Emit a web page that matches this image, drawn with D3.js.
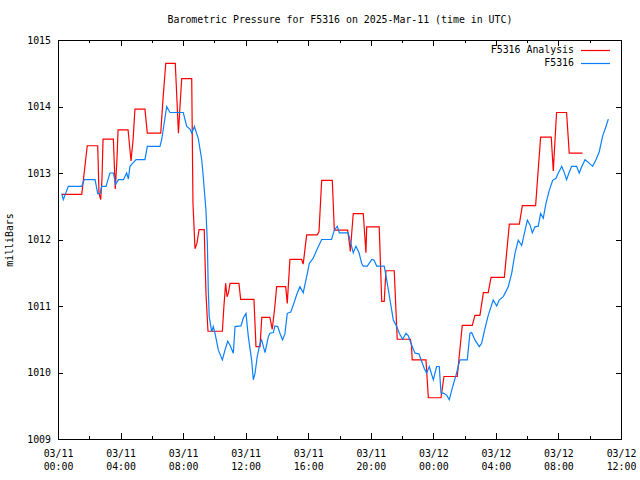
<!DOCTYPE html>
<html>
<head>
<meta charset="utf-8">
<script src="https://cdn.jsdelivr.net/npm/d3@7"></script>
<style>
  html, body { margin: 0; padding: 0; background: #fff; }
  svg { display: block; }
  text { font-family: "DejaVu Sans Mono", "Liberation Mono", monospace; font-size: 9.9px; fill: #000; }
</style>
</head>
<body>
<svg id="chart" width="640" height="480"></svg>
<script>
// ---- Data (hours since 2025-03-11 00:00 UTC, pressure in milliBars) ----
const title = "Barometric Pressure for F5316 on 2025-Mar-11 (time in UTC)";
const yLabel = "milliBars";
const seriesNames = ["F5316 Analysis", "F5316"];
const yTicks = [1009, 1010, 1011, 1012, 1013, 1014, 1015];
const xTickHours = [0, 4, 8, 12, 16, 20, 24, 28, 32, 36];
const xTickLabels = [
  ["03/11", "00:00"], ["03/11", "04:00"], ["03/11", "08:00"], ["03/11", "12:00"],
  ["03/11", "16:00"], ["03/11", "20:00"], ["03/12", "00:00"], ["03/12", "04:00"],
  ["03/12", "08:00"], ["03/12", "12:00"]
];

const analysisHours = [0.24,1.52,1.87,2.54,2.62,2.73,2.81,2.88,3.54,3.66,3.77,3.84,4.48,4.67,4.80,4.92,5.56,5.71,6.57,6.71,6.89,7.50,7.70,7.80,7.91,8.55,8.63,8.76,8.89,9.02,9.35,9.46,9.59,10.51,10.61,10.72,10.81,10.90,11.00,11.57,11.68,12.53,12.66,12.92,13.03,13.55,13.70,13.87,13.98,14.56,14.66,14.83,15.58,15.68,15.90,16.58,16.69,16.86,17.54,17.67,18.52,18.67,18.69,18.88,19.52,19.69,19.74,20.54,20.70,20.86,20.97,21.50,21.69,22.53,22.60,22.65,23.53,23.68,24.49,24.68,25.53,25.85,26.49,26.66,26.98,27.20,27.51,27.69,28.54,28.86,29.50,29.69,30.54,30.86,31.54,31.67,31.88,32.52,32.69,33.54];
const analysisValues = [1012.68,1012.68,1013.41,1013.41,1012.70,1012.60,1012.90,1013.51,1013.51,1012.76,1013.20,1013.65,1013.65,1013.18,1013.50,1013.96,1013.96,1013.60,1013.60,1014.10,1014.65,1014.65,1013.60,1014.00,1014.42,1014.42,1012.55,1011.86,1011.95,1012.15,1012.15,1011.20,1010.62,1010.62,1011.00,1011.34,1011.14,1011.20,1011.34,1011.34,1011.10,1011.10,1010.39,1010.39,1010.83,1010.83,1010.65,1011.00,1011.29,1011.29,1011.04,1011.70,1011.70,1011.63,1012.07,1012.07,1012.12,1012.89,1012.89,1012.14,1012.14,1011.88,1011.82,1012.39,1012.39,1011.80,1012.19,1012.19,1011.07,1011.07,1011.53,1011.53,1010.50,1010.50,1010.41,1010.19,1010.19,1009.62,1009.62,1009.94,1009.94,1010.71,1010.71,1010.86,1010.86,1011.20,1011.20,1011.43,1011.43,1012.23,1012.23,1012.51,1012.51,1013.54,1013.54,1013.03,1013.91,1013.91,1013.30,1013.30];

const stationHours = [0.24,0.34,0.66,1.52,1.68,2.37,2.54,2.69,2.79,3.07,3.32,3.54,3.69,3.86,4.18,4.39,4.50,4.60,4.99,5.56,5.71,6.52,6.63,6.95,7.16,8.01,8.23,8.44,8.55,8.72,8.97,9.19,9.29,9.46,9.55,9.61,9.67,9.83,9.93,10.04,10.25,10.51,10.68,10.85,11.00,11.21,11.32,11.70,11.85,12.02,12.17,12.38,12.49,12.60,12.74,12.92,13.02,13.24,13.45,13.55,13.77,13.87,14.05,14.19,14.36,14.51,14.66,14.88,15.04,15.26,15.47,15.68,15.90,16.07,16.32,16.56,16.86,17.49,17.67,17.86,17.99,18.56,18.67,18.88,19.05,19.25,19.42,19.52,19.78,20.06,20.20,20.38,20.86,21.02,21.23,21.44,21.66,21.82,22.04,22.25,22.40,22.57,22.72,22.83,23.08,23.25,23.42,23.57,23.74,24.00,24.21,24.38,24.49,24.64,24.85,25.02,25.24,25.45,25.70,26.17,26.34,26.45,26.66,26.94,27.09,27.30,27.51,27.83,28.05,28.21,28.47,28.58,28.79,29.01,29.22,29.43,29.65,29.80,30.01,30.18,30.33,30.50,30.71,30.86,31.03,31.20,31.39,31.63,31.84,31.99,32.21,32.35,32.52,32.67,32.84,33.16,33.33,33.48,33.70,33.91,34.19,34.40,34.61,34.82,35.04,35.19];
const stationValues = [1012.69,1012.60,1012.80,1012.80,1012.90,1012.90,1012.69,1012.69,1012.80,1012.80,1013.00,1013.00,1012.83,1012.90,1012.90,1013.00,1012.91,1013.10,1013.20,1013.20,1013.40,1013.40,1013.50,1014.00,1013.91,1013.91,1013.70,1013.66,1013.60,1013.70,1013.52,1013.20,1012.94,1012.44,1011.94,1011.24,1010.84,1010.61,1010.69,1010.59,1010.34,1010.19,1010.34,1010.47,1010.41,1010.29,1010.69,1010.70,1010.82,1010.89,1010.54,1010.19,1009.89,1009.99,1010.24,1010.44,1010.49,1010.30,1010.54,1010.59,1010.60,1010.70,1010.69,1010.59,1010.49,1010.58,1010.89,1010.91,1011.01,1011.17,1011.29,1011.20,1011.44,1011.64,1011.72,1011.85,1012.00,1012.00,1012.14,1012.20,1012.10,1012.10,1011.99,1011.80,1011.90,1011.80,1011.64,1011.60,1011.60,1011.70,1011.69,1011.60,1011.60,1011.39,1011.09,1010.79,1010.69,1010.59,1010.50,1010.59,1010.55,1010.44,1010.35,1010.29,1010.28,1010.17,1010.06,1009.99,1010.09,1009.89,1010.09,1010.09,1009.69,1009.69,1009.66,1009.59,1009.79,1009.96,1010.19,1010.19,1010.59,1010.60,1010.49,1010.39,1010.44,1010.66,1010.86,1011.09,1011.00,1011.09,1011.14,1011.19,1011.29,1011.49,1011.79,1011.99,1011.91,1012.07,1012.29,1012.22,1012.10,1012.19,1012.20,1012.39,1012.32,1012.54,1012.72,1012.89,1012.92,1013.00,1013.10,1013.02,1012.90,1013.00,1013.10,1013.10,1013.00,1013.09,1013.20,1013.16,1013.10,1013.20,1013.32,1013.55,1013.70,1013.81];

// ---- Layout ----
const svg = d3.select("#chart");
const L = 58, R = 621, T = 40, B = 439;
const x = d3.scaleLinear().domain([0, 36]).range([L, R]);
const y = d3.scaleLinear().domain([1009, 1015]).range([B, T]);

svg.append("text").attr("x", 340).attr("y", 23).attr("text-anchor", "middle").text(title);

svg.append("text")
  .attr("transform", `translate(13,240) rotate(-90)`)
  .attr("text-anchor", "middle")
  .text(yLabel);

// Axes (ticks drawn inward)
const minorHours = d3.range(0, 37, 2);
function addXAxis(gen, ty, sign) {
  const g = svg.append("g").attr("transform", `translate(0,${ty})`);
  g.call(gen.scale(x).tickValues(minorHours).tickFormat("").tickSizeInner(sign * 3).tickSizeOuter(0));
  g.selectAll(".tick line").attr("y2", function(d) { return (d % 4 === 0 ? 6 : 3) * sign; });
  g.select(".domain").remove();
  g.selectAll("line").attr("stroke", "#000").attr("shape-rendering", "crispEdges");
  return g;
}
addXAxis(d3.axisBottom(), B, -1);
addXAxis(d3.axisTop(), T, 1);

const gxLabels = svg.append("g").attr("transform", `translate(0,${B})`)
  .call(d3.axisBottom(x).tickValues(xTickHours).tickSize(0).tickFormat(""));
gxLabels.select(".domain").remove();
gxLabels.selectAll(".tick").each(function(d, i) {
  const t = d3.select(this).append("text").attr("text-anchor", "middle");
  t.append("tspan").attr("x", 0).attr("y", 18).text(xTickLabels[i][0]);
  t.append("tspan").attr("x", 0).attr("y", 31).text(xTickLabels[i][1]);
});

const gyL = svg.append("g").attr("transform", `translate(${L},0)`)
  .call(d3.axisLeft(y).tickValues(yTicks).tickFormat(d3.format("d")).tickSizeInner(-5).tickSizeOuter(0).tickPadding(8));
gyL.select(".domain").remove();
gyL.selectAll(".tick text").attr("x", -7).attr("dy", "0.35em");
gyL.selectAll("line").attr("stroke", "#000").attr("shape-rendering", "crispEdges");

const gyR = svg.append("g").attr("transform", `translate(${R},0)`)
  .call(d3.axisRight(y).tickValues(yTicks).tickFormat("").tickSizeInner(-5).tickSizeOuter(0));
gyR.select(".domain").remove();
gyR.selectAll("line").attr("stroke", "#000").attr("shape-rendering", "crispEdges");

svg.selectAll("g text").attr("font-family", null).attr("font-size", null).attr("fill", "#000");

// Frame
svg.append("rect").attr("x", L + 0.5).attr("y", T + 0.5).attr("width", R - L).attr("height", B - T)
  .attr("fill", "none").attr("stroke", "#000").attr("stroke-width", 1).attr("shape-rendering", "crispEdges");

// Lines
const line = d3.line().x(d => x(d[0])).y(d => y(d[1]));
const analysis = analysisHours.map((h, i) => [h, analysisValues[i]]);
const station = stationHours.map((h, i) => [h, stationValues[i]]);
const colors = ["#ff0000", "#0a80ff"];

svg.append("path").datum(analysis).attr("d", line)
  .attr("fill", "none").attr("stroke", colors[0]).attr("stroke-width", 1.2);
svg.append("path").datum(station).attr("d", line)
  .attr("fill", "none").attr("stroke", colors[1]).attr("stroke-width", 1.2);

// Legend
seriesNames.forEach((name, i) => {
  const ly = 50 + i * 13;
  svg.append("text").attr("x", 574).attr("y", ly).attr("dy", "0.35em").attr("text-anchor", "end").text(name);
  svg.append("line").attr("x1", 581).attr("x2", 610).attr("y1", ly + 0.5).attr("y2", ly + 0.5)
    .attr("stroke", colors[i]).attr("stroke-width", 1.2);
});
</script>
</body>
</html>
